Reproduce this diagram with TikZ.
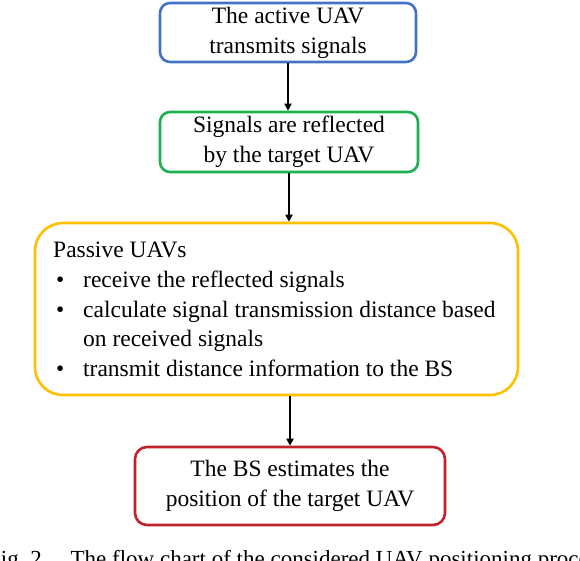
\documentclass[tikz,border=0pt]{standalone}
\usepackage{fontspec}
\setmainfont{Liberation Serif}
\usetikzlibrary{arrows.meta}
\definecolor{cblue}{HTML}{4472C4}
\definecolor{cgreen}{HTML}{1DB04F}
\definecolor{cyellow}{HTML}{FFC000}
\definecolor{cred}{HTML}{C0222C}
\begin{document}
\begin{tikzpicture}[x=1pt,y=-1pt,
  box/.style={draw, line width=2.6pt, align=center, inner sep=0pt, text=black,
    font=\fontsize{23.5}{30}\selectfont},
  conn/.style={line width=1.8pt, -{Triangle[length=7pt,width=7pt]}}]
\useasboundingbox (0,0) rectangle (580,560);
\fill[white] (0,0) rectangle (580,560);
\node[box, draw=cblue, rounded corners=10pt, minimum width=256pt, minimum height=59pt] (a) at (288,32.5) {The active UAV\\transmits signals};
\node[box, draw=cgreen, rounded corners=10pt, minimum width=258pt, minimum height=60pt] (b) at (289,142) {Signals are reflected\\by the target UAV};
\node[box, draw=cyellow, rounded corners=28pt, minimum width=483pt, minimum height=172pt] (c) at (276.5,309) {};
\node[anchor=north west, inner sep=0pt, align=left, font=\fontsize{23.5}{29.7}\selectfont] (ct) at (53,242) {Passive UAVs\\
\makebox[30pt][l]{\hspace{3pt}\textbullet}receive the reflected signals\\
\makebox[30pt][l]{\hspace{3pt}\textbullet}calculate signal transmission distance based\\
\makebox[30pt][l]{}on received signals\\
\makebox[30pt][l]{\hspace{3pt}\textbullet}transmit distance information to the BS};
\node[box, draw=cred, rounded corners=12pt, minimum width=310pt, minimum height=78pt] (d) at (290,486) {The BS estimates the\\position of the target UAV};
\draw[conn] (a.south) -- (a.south |- b.north);
\draw[conn] (b.south) -- (b.south |- c.north);
\draw[conn] (c.south -| d.north) -- (d.north);
\begin{scope}
\clip (0,0) rectangle (580,560);
\node[anchor=base west, inner sep=0pt, font=\fontsize{23}{26}\selectfont] (cap) at (-12,566) {Fig.~2.\quad The flow chart of the considered UAV positioning procedure.};
\end{scope}
\end{tikzpicture}
\end{document}
